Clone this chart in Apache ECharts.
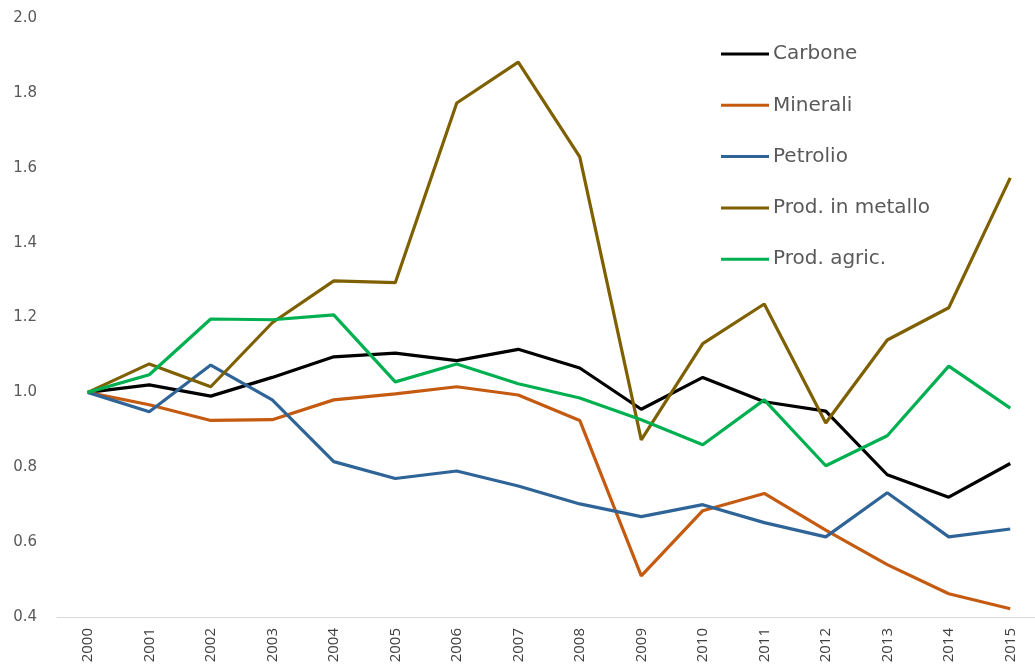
<!DOCTYPE html>
<html>
<head>
<meta charset="utf-8">
<script src="https://cdn.jsdelivr.net/npm/echarts@6/dist/echarts.min.js"></script>
<style>
  html, body { margin: 0; padding: 0; background: #fff; }
  #chart { width: 1035px; height: 666px; }
</style>
</head>
<body>
<div id="chart"></div>
<script>
  const years = ['2000', '2001', '2002', '2003', '2004', '2005', '2006', '2007',
    '2008', '2009', '2010', '2011', '2012', '2013', '2014', '2015'];

  const carbone = [1.0, 1.02, 0.99, 1.04, 1.095, 1.105, 1.085, 1.115,
    1.065, 0.955, 1.04, 0.975, 0.95, 0.78, 0.72, 0.81];
  const minerali = [1.0, 0.967, 0.925, 0.927, 0.98, 0.996, 1.015, 0.993,
    0.925, 0.51, 0.684, 0.73, 0.632, 0.54, 0.462, 0.422];
  const petrolio = [1.0, 0.948, 1.073, 0.98, 0.815, 0.77, 0.79, 0.75,
    0.702, 0.668, 0.70, 0.652, 0.614, 0.732, 0.614, 0.635];
  const metallo = [1.0, 1.076, 1.015, 1.186, 1.298, 1.293, 1.773, 1.882,
    1.629, 0.873, 1.13, 1.236, 0.918, 1.14, 1.226, 1.573];
  const agric = [1.0, 1.047, 1.196, 1.194, 1.207, 1.028, 1.076, 1.023,
    0.985, 0.927, 0.86, 0.98, 0.804, 0.884, 1.07, 0.958];

  const seriesDefs = [
    ['Carbone', carbone, '#000000'],
    ['Minerali', minerali, '#C55A11'],
    ['Petrolio', petrolio, '#2E6497'],
    ['Prod. in metallo', metallo, '#7F6000'],
    ['Prod. agric.', agric, '#00B050'],
  ];

  const WIDE = "'DejaVu Sans', sans-serif";
  const FONT = "'Open Sans', 'Noto Sans', sans-serif";
  const chart = echarts.init(document.getElementById('chart'), null, { renderer: 'canvas' });
  chart.setOption({
    animation: false,
    backgroundColor: '#fff',
    grid: { left: 57, width: 984, top: 18, bottom: 49, containLabel: false, outerBoundsMode: 'none' },
    legend: {
      orient: 'vertical',
      left: 721,
      top: 43,
      padding: 0,
      itemWidth: 48,
      itemHeight: 3,
      itemGap: 29.3,
      icon: 'rect',
      textStyle: { fontFamily: WIDE, fontSize: 20, color: '#595959', lineHeight: 22, padding: [0, 0, 0, -1] },
      data: seriesDefs.map((s) => s[0]),
    },
    xAxis: {
      type: 'category',
      data: years,
      boundaryGap: true,
      axisLine: { lineStyle: { color: '#D9D9D9', width: 1 } },
      axisTick: { show: false },
      axisLabel: { rotate: 90, margin: 11, fontFamily: FONT, fontSize: 15, color: '#404040', interval: 0 },
      splitLine: { show: false },
    },
    yAxis: {
      type: 'value',
      min: 0.4,
      max: 2.0,
      interval: 0.2,
      axisLine: { show: false },
      axisTick: { show: false },
      splitLine: { show: false },
      axisLabel: {
        margin: 20,
        fontFamily: WIDE,
        fontSize: 15,
        color: '#595959',
        formatter: (v) => v.toFixed(1),
      },
    },
    series: seriesDefs.map(([name, data, color]) => ({
      name,
      type: 'line',
      data,
      showSymbol: false,
      symbol: 'none',
      lineStyle: { width: 3.2, color },
      itemStyle: { color },
    })),
  });
</script>
</body>
</html>
